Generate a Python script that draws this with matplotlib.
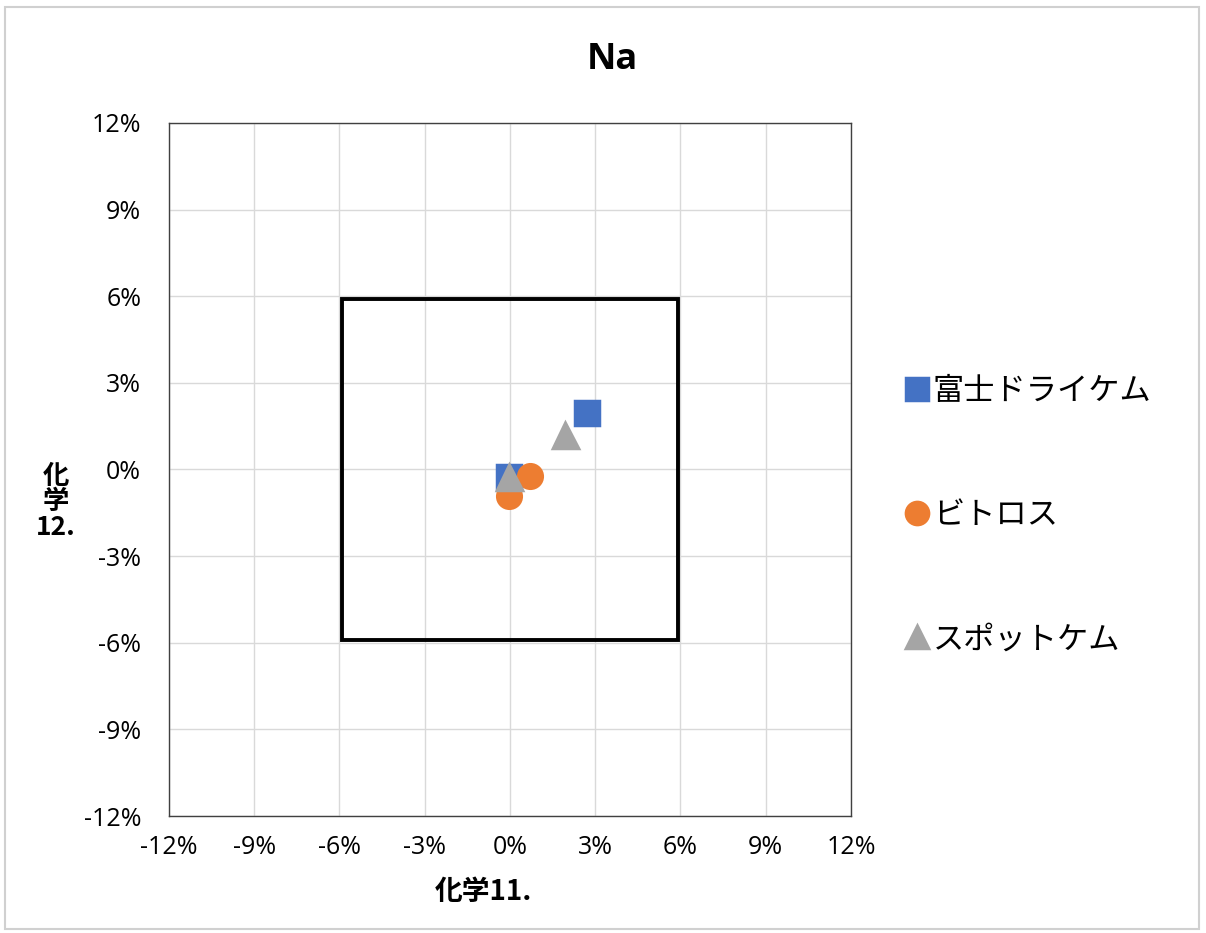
import numpy as np
import matplotlib.pyplot as plt
from matplotlib.patches import Rectangle
from matplotlib.ticker import FuncFormatter

plt.rcParams['font.family'] = ['Noto Sans CJK JP', 'DejaVu Sans']

# データ (%)
fuji_x = [2.7, -0.05]
fuji_y = [1.95, -0.25]
vitros_x = [0.7, -0.02]
vitros_y = [-0.22, -0.92]
spot_x = [1.95, -0.05]
spot_y = [1.2, -0.25]

series = [
    ("富士ドライケム", fuji_x, fuji_y, "s", "#4472C4"),
    ("ビトロス", vitros_x, vitros_y, "o", "#ED7D31"),
    ("スポットケム", spot_x, spot_y, "^", "#A5A5A5"),
]
limit = 5.9
ticks = np.arange(-12, 13, 3)

fig = plt.figure(figsize=(12.06, 9.33), dpi=100)
ax = fig.add_axes([0.1401, 0.1254, 0.5655, 0.7428])

# 外枠
fig.patches.append(Rectangle((0.004, 0.004), 0.99, 0.988, transform=fig.transFigure,
                             fill=False, edgecolor="#d0d0d0", linewidth=1.5))

for name, xs, ys, m, c in series:
    ax.plot(xs, ys, linestyle="none", marker=m, markersize=17 if m != "^" else 18,
            color=c, markeredgecolor=c, markeredgewidth=2.5, label=name,
            solid_joinstyle="round", zorder=3)

# 許容範囲の枠
ax.add_patch(Rectangle((-limit, -limit), 2 * limit, 2 * limit, fill=False,
                       edgecolor="black", linewidth=2.8, zorder=2))

ax.set_xlim(-12, 12)
ax.set_ylim(-12, 12)
ax.set_xticks(ticks)
ax.set_yticks(ticks)
fmt = FuncFormatter(lambda v, p: f"{v:.0f}%")
ax.xaxis.set_major_formatter(fmt)
ax.yaxis.set_major_formatter(fmt)
ax.tick_params(length=0, labelsize=18)
ax.tick_params(axis="y", pad=20)
ax.tick_params(axis="x", pad=14)
for lab in ax.get_xticklabels() + ax.get_yticklabels():
    lab.set_family(['Open Sans', 'DejaVu Sans'])
ax.grid(True, color="#d9d9d9", linewidth=1)
ax.set_axisbelow(True)
for s in ax.spines.values():
    s.set_color("#404040")
    s.set_linewidth(1)

fig.text(0.508, 0.936, "Na", ha="center", va="center", fontsize=26,
         fontweight="bold", family=['Open Sans', 'DejaVu Sans'])
fig.text(0.4005, 0.044, "化学11.", ha="center", va="center", fontsize=20, fontweight="bold")
fig.text(0.046, 0.462, "化\n学\n12.", ha="center", va="center", fontsize=19,
         fontweight="bold", linespacing=0.92)

leg = ax.legend(loc="center left", bbox_to_anchor=(1.065, 0.434), frameon=False,
                fontsize=22.5, labelspacing=2.95, handlelength=0.6, handletextpad=0.2,
                borderaxespad=0)
for h in leg.legend_handles:
    h.set_markersize(16)

fig.savefig("out.png", dpi=100)
